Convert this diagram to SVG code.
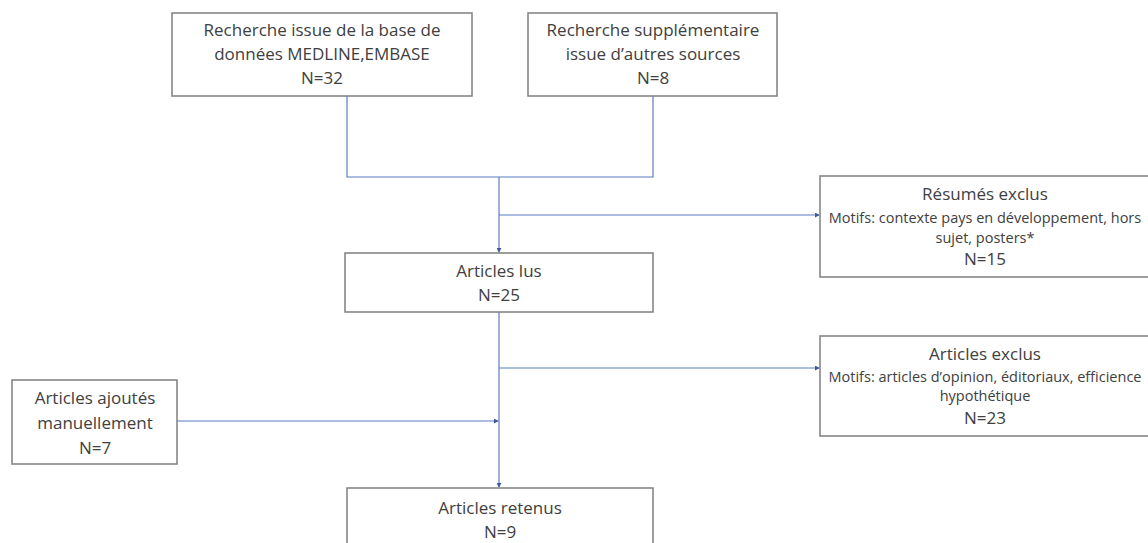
<svg xmlns="http://www.w3.org/2000/svg" width="1148" height="543" viewBox="0 0 1148 543">
<style>
.box{fill:#ffffff;stroke:#7f7f7f;stroke-width:1.5}
.t{font-family:"Open Sans","Liberation Sans",sans-serif;font-size:17px;fill:#404040;text-anchor:middle}
.s{font-family:"Open Sans","Liberation Sans",sans-serif;font-size:14.5px;fill:#404040;text-anchor:middle}
.c{fill:none;stroke:#5a7ebf;stroke-width:1.2}
</style>
<defs>
<marker id="ah" viewBox="0 0 6 6" refX="5" refY="3" markerWidth="5" markerHeight="5" orient="auto" markerUnits="userSpaceOnUse">
<path d="M0,0 L6,3 L0,6 Z" fill="#3d5a94"/>
</marker>
</defs>
<rect width="1148" height="543" fill="#ffffff"/>
<g id="connectors">
<path class="c" d="M347,96 V177 H653 V96"/>
<path class="c" d="M499,177 V252" marker-end="url(#ah)"/>
<path class="c" d="M499,215 H819" marker-end="url(#ah)"/>
<path class="c" d="M499,312 V487" marker-end="url(#ah)"/>
<path class="c" d="M499,368 H819" marker-end="url(#ah)"/>
<path class="c" d="M177,421 H498" marker-end="url(#ah)"/>
</g>
<g id="n1">
<rect class="box" x="172" y="13" width="300" height="83"/>
<text class="t" x="322" y="36">Recherche issue de la base de</text>
<text class="t" x="322" y="60">données MEDLINE,EMBASE</text>
<text class="t" x="322" y="84">N=32</text>
</g>
<g id="n2">
<rect class="box" x="528" y="13" width="249" height="83"/>
<text class="t" x="653" y="36">Recherche supplémentaire</text>
<text class="t" x="653" y="60">issue d’autres sources</text>
<text class="t" x="653" y="84">N=8</text>
</g>
<g id="n3">
<rect class="box" x="345" y="253" width="308" height="59"/>
<text class="t" x="499" y="277">Articles lus</text>
<text class="t" x="499" y="301">N=25</text>
</g>
<g id="n4">
<rect class="box" x="820" y="176" width="330" height="101"/>
<text class="t" x="985" y="200">Résumés exclus</text>
<text class="s" x="985" y="223">Motifs: contexte pays en développement, hors</text>
<text class="s" x="985" y="243">sujet, posters*</text>
<text class="t" x="985" y="265">N=15</text>
</g>
<g id="n5">
<rect class="box" x="820" y="336" width="330" height="100"/>
<text class="t" x="985" y="360">Articles exclus</text>
<text class="s" x="985" y="382">Motifs: articles d’opinion, éditoriaux, efficience</text>
<text class="s" x="985" y="401">hypothétique</text>
<text class="t" x="985" y="424">N=23</text>
</g>
<g id="n6">
<rect class="box" x="12" y="380" width="165" height="84"/>
<text class="t" x="95" y="404">Articles ajoutés</text>
<text class="t" x="95" y="429">manuellement</text>
<text class="t" x="95" y="454">N=7</text>
</g>
<g id="n7">
<rect class="box" x="347" y="488" width="306" height="70"/>
<text class="t" x="500" y="514">Articles retenus</text>
<text class="t" x="500" y="538">N=9</text>
</g>
</svg>
